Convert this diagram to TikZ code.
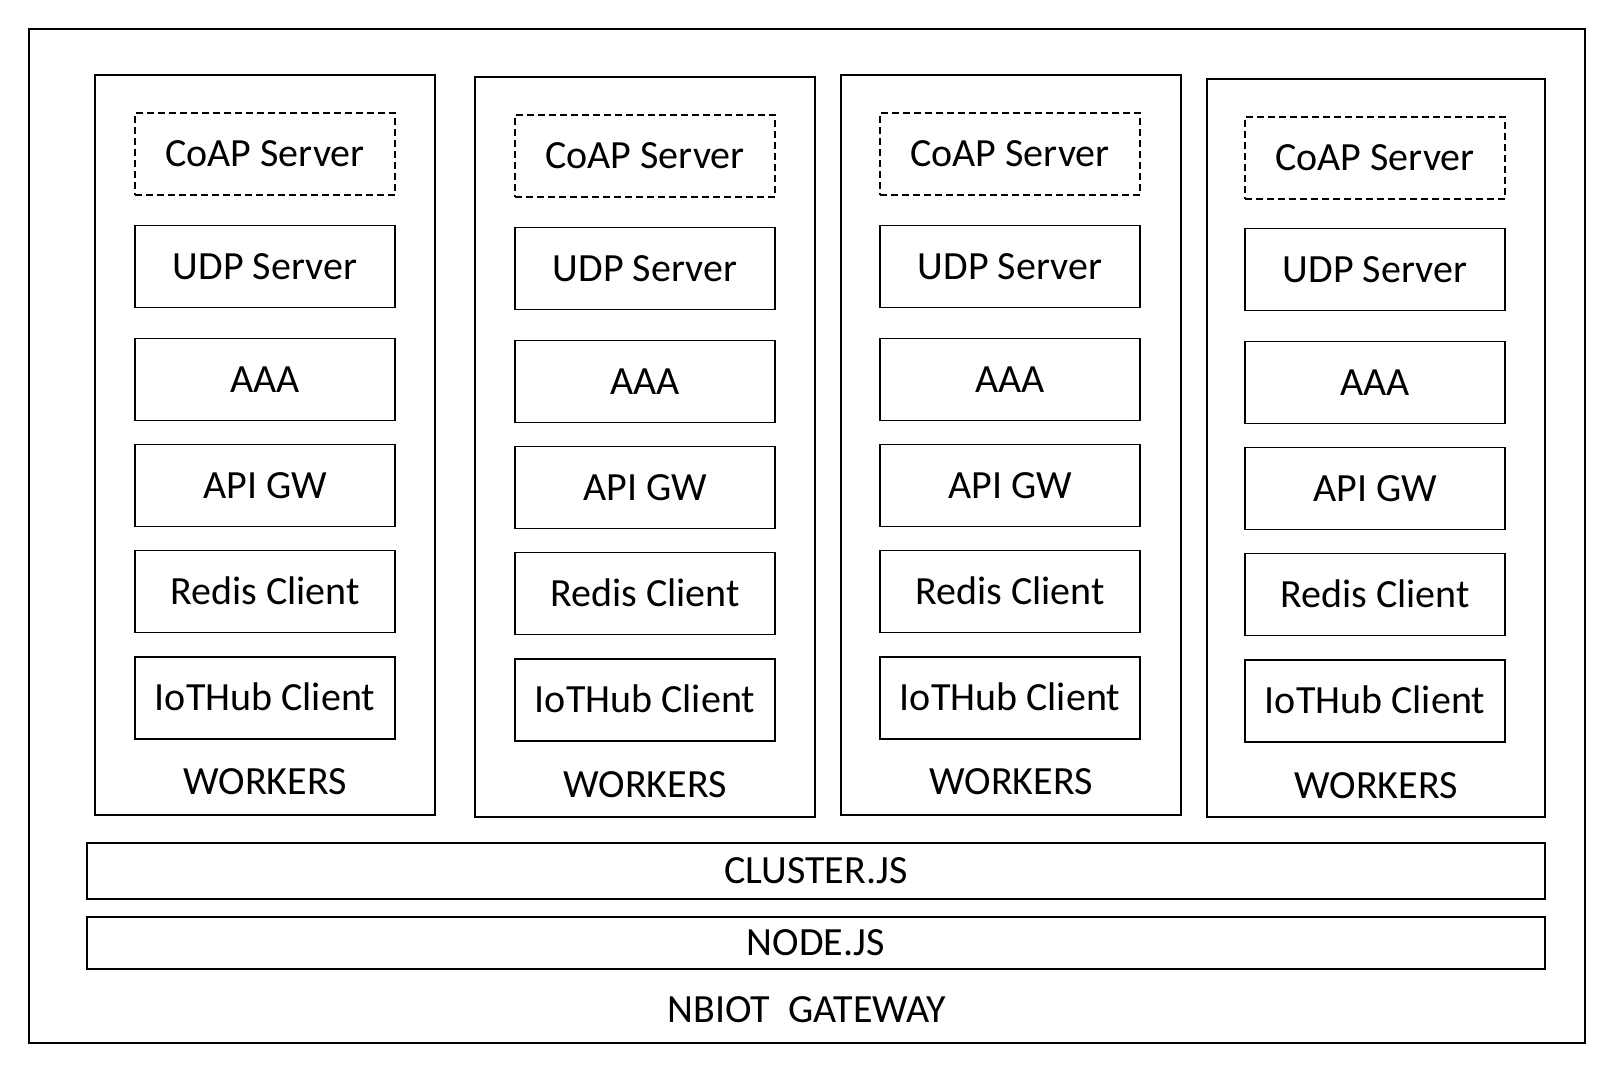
\documentclass[tikz,border=0pt]{standalone}
\usepackage{fontspec}
\setmainfont{Carlito}
\usetikzlibrary{positioning}

\begin{document}
\begin{tikzpicture}[x=1pt,y=1pt,yscale=-1,xscale=1,
  txt/.style={font=\fontsize{40}{48}\selectfont,text height=25.3pt,text depth=0pt,inner sep=0pt},
  box/.style={txt,draw,line width=1.6pt,minimum width=260pt,minimum height=82pt},
  coapbox/.style={box,dash pattern=on 7pt off 4pt},
  workerbox/.style={draw,line width=1.6pt,minimum width=340pt,minimum height=740pt,inner sep=0pt},
  layerbox/.style={txt,draw,line width=1.6pt,minimum width=1458pt}]

\useasboundingbox (0,0) rectangle (1612,1072);

% Gateway
\node [draw,line width=1.6pt,minimum width=1556pt,minimum height=1014pt,inner sep=0pt] (gw) at (807,536) {};
\node [txt] (gwlabel) at (807,1010) {NBIOT\ \ GATEWAY};

% Worker 1
\node [workerbox] (w1) at (265,445) {};
\node [coapbox] (coap1) at (265,154) {CoAP Server};
\node [box] (udp1) at (265,266.5) {UDP Server};
\node [box] (aaa1) at (265,379.5) {AAA};
\node [box] (api1) at (265,485.5) {API GW};
\node [box] (redis1) at (265,591.5) {Redis Client};
\node [box] (iot1) at (265,698) {IoTHub Client};
\node [txt] (wlabel1) at (265,782) {WORKERS};

% Worker 2
\node [workerbox] (w2) at (645,447) {};
\node [coapbox] (coap2) at (645,156) {CoAP Server};
\node [box] (udp2) at (645,268.5) {UDP Server};
\node [box] (aaa2) at (645,381.5) {AAA};
\node [box] (api2) at (645,487.5) {API GW};
\node [box] (redis2) at (645,593.5) {Redis Client};
\node [box] (iot2) at (645,700) {IoTHub Client};
\node [txt] (wlabel2) at (645,785) {WORKERS};

% Worker 3
\node [workerbox] (w3) at (1011,445) {};
\node [coapbox] (coap3) at (1010,154) {CoAP Server};
\node [box] (udp3) at (1010,266.5) {UDP Server};
\node [box] (aaa3) at (1010,379.5) {AAA};
\node [box] (api3) at (1010,485.5) {API GW};
\node [box] (redis3) at (1010,591.5) {Redis Client};
\node [box] (iot3) at (1010,698) {IoTHub Client};
\node [txt] (wlabel3) at (1011,782) {WORKERS};

% Worker 4
\node [workerbox,minimum width=338pt,minimum height=738pt] (w4) at (1376,448) {};
\node [coapbox] (coap4) at (1375,158) {CoAP Server};
\node [box] (udp4) at (1375,269.5) {UDP Server};
\node [box] (aaa4) at (1375,382.5) {AAA};
\node [box] (api4) at (1375,488.5) {API GW};
\node [box] (redis4) at (1375,594.5) {Redis Client};
\node [box] (iot4) at (1375,701) {IoTHub Client};
\node [txt] (wlabel4) at (1376,785.5) {WORKERS};

% Layers
\node [layerbox,minimum height=56pt] (cluster) at (816,871) {CLUSTER.JS};
\node [layerbox,minimum height=52pt] (nodejs) at (816,943) {NODE.JS};

\end{tikzpicture}
\end{document}
